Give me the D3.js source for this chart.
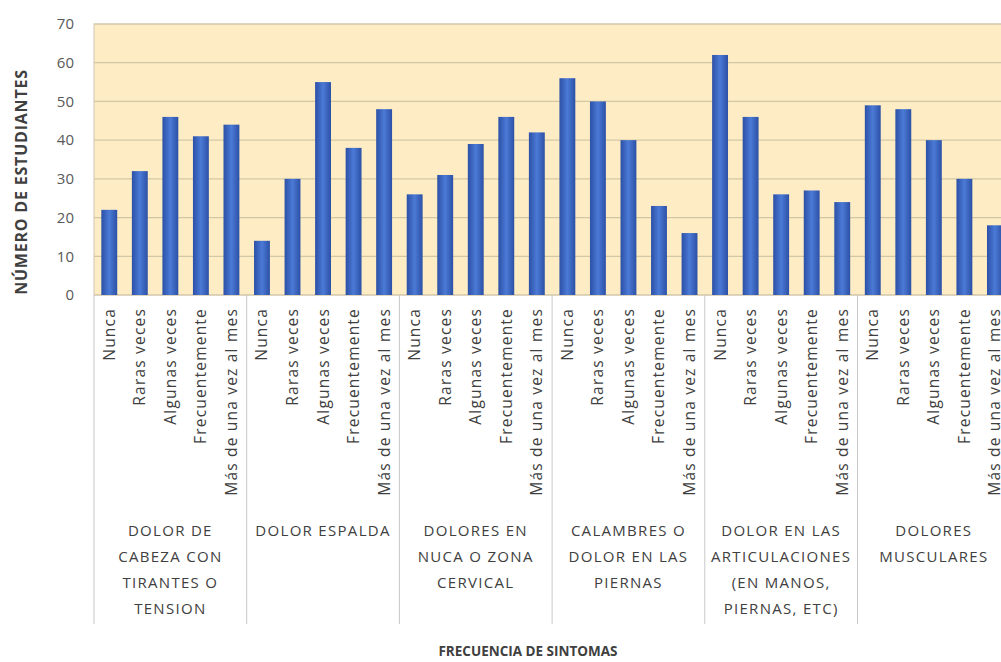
<!DOCTYPE html>
<html>
<head>
<meta charset="utf-8">
<script src="https://cdn.jsdelivr.net/npm/d3@7/dist/d3.min.js"></script>
<style>
  body { margin: 0; background: #fff; }
  svg { display: block; font-family: "Open Sans", "Liberation Sans", sans-serif; }
</style>
</head>
<body>
<svg id="chart" width="1001" height="662"></svg>
<script>
// frequency categories (repeat in each symptom group)
var freqs = ['Nunca', 'Raras veces', 'Algunas veces', 'Frecuentemente', 'Más de una vez al mes'];

// symptom groups, one line per row of the label
var groups = [
    ['DOLOR DE', 'CABEZA CON', 'TIRANTES O', 'TENSION'],
    ['DOLOR ESPALDA'],
    ['DOLORES EN', 'NUCA O ZONA', 'CERVICAL'],
    ['CALAMBRES O', 'DOLOR EN LAS', 'PIERNAS'],
    ['DOLOR EN LAS', 'ARTICULACIONES', '(EN MANOS,', 'PIERNAS, ETC)'],
    ['DOLORES', 'MUSCULARES']
];

// number of students per frequency, per group
var dolorCabeza = [22, 32, 46, 41, 44];
var dolorEspalda = [14, 30, 55, 38, 48];
var doloresNuca = [26, 31, 39, 46, 42];
var calambres = [56, 50, 40, 23, 16];
var dolorArticulaciones = [62, 46, 26, 27, 24];
var doloresMusculares = [49, 48, 40, 30, 18];

var yTicks = [0, 10, 20, 30, 40, 50, 60, 70];

(function() {
    var series = [dolorCabeza, dolorEspalda, doloresNuca, calambres, dolorArticulaciones, doloresMusculares];

    // flatten into one row per bar
    var rows = [];
    series.forEach(function(vals, g) {
        vals.forEach(function(v, i) {
            rows.push({ key: g + '-' + i, group: g, freq: freqs[i], value: v });
        });
    });

    var plotLeft = 94, plotTop = 24, plotBottom = 295, groupW = 152.7;
    var plotRight = plotLeft + groups.length * groupW;

    var svg = d3.select('#chart');

    var x = d3.scaleBand()
        .domain(rows.map(function(d) { return d.key; }))
        .range([plotLeft, plotRight])
        .paddingInner(0.48)
        .paddingOuter(0.24);

    var y = d3.scaleLinear().domain([0, 70]).range([plotBottom, plotTop]);

    var defs = svg.append('defs');
    var grad = defs.append('linearGradient').attr('id', 'barGrad')
        .attr('x1', '0%').attr('x2', '100%').attr('y1', '0%').attr('y2', '0%');
    grad.append('stop').attr('offset', '0%').attr('stop-color', '#2c50a6');
    grad.append('stop').attr('offset', '50%').attr('stop-color', '#4b7ad6');
    grad.append('stop').attr('offset', '100%').attr('stop-color', '#2c50a6');

    // plot background
    svg.append('rect')
        .attr('x', plotLeft).attr('y', plotTop)
        .attr('width', plotRight - plotLeft).attr('height', plotBottom - plotTop)
        .attr('fill', '#fdecc4')
        .attr('stroke', '#cfc7b4').attr('stroke-width', 1);

    // gridlines
    svg.append('g').selectAll('line')
        .data(yTicks)
        .enter().append('line')
        .attr('x1', plotLeft).attr('x2', plotRight)
        .attr('y1', function(d) { return y(d); })
        .attr('y2', function(d) { return y(d); })
        .attr('stroke', '#d3c8a6').attr('stroke-width', 1.2);

    // y axis tick labels
    var yAxis = svg.append('g')
        .attr('transform', 'translate(' + (plotLeft - 20) + ',0)')
        .call(d3.axisLeft(y).tickValues(yTicks).tickSize(0).tickPadding(0));
    yAxis.select('.domain').remove();
    yAxis.selectAll('text')
        .attr('font-size', 15).attr('fill', '#595959')
        .attr('font-family', '"Open Sans", sans-serif');

    // bars
    svg.append('g').selectAll('rect')
        .data(rows)
        .enter().append('rect')
        .attr('x', function(d) { return x(d.key); })
        .attr('y', function(d) { return y(d.value); })
        .attr('width', x.bandwidth())
        .attr('height', function(d) { return y(0) - y(d.value); })
        .attr('fill', 'url(#barGrad)');

    // category labels, rotated
    svg.append('g').selectAll('text')
        .data(rows)
        .enter().append('text')
        .attr('transform', function(d) {
            var cx = x(d.key) + x.bandwidth() / 2;
            return 'translate(' + (cx + 5.5) + ',308) rotate(-90)';
        })
        .attr('text-anchor', 'end')
        .attr('font-size', 15.5)
        .attr('letter-spacing', 1.2)
        .attr('fill', '#404040')
        .text(function(d) { return d.freq; });

    // group separators
    var sep = d3.range(groups.length + 1).map(function(i) { return plotLeft + i * groupW; });
    svg.append('g').selectAll('line')
        .data(sep)
        .enter().append('line')
        .attr('x1', function(d) { return d; }).attr('x2', function(d) { return d; })
        .attr('y1', plotBottom).attr('y2', 624)
        .attr('stroke', '#c8c8c8').attr('stroke-width', 1);

    // group labels
    var gl = svg.append('g').selectAll('text')
        .data(groups)
        .enter().append('text')
        .attr('text-anchor', 'middle')
        .attr('font-size', 15)
        .attr('letter-spacing', 1.3)
        .attr('fill', '#404040');
    gl.each(function(lines, g) {
        var cx = plotLeft + g * groupW + groupW / 2;
        d3.select(this).selectAll('tspan')
            .data(lines)
            .enter().append('tspan')
            .attr('x', cx)
            .attr('y', function(d, i) { return 536 + i * 26; })
            .text(function(d) { return d; });
    });

    // axis titles
    svg.append('text')
        .attr('transform', 'translate(27,182) rotate(-90)')
        .attr('text-anchor', 'middle')
        .attr('font-size', 16).attr('font-weight', 'bold')
        .attr('letter-spacing', 0.8)
        .attr('fill', '#404040')
        .text('NÚMERO DE ESTUDIANTES');

    svg.append('text')
        .attr('x', 528).attr('y', 656)
        .attr('text-anchor', 'middle')
        .attr('font-size', 13.5).attr('font-weight', 'bold')
        .attr('fill', '#404040')
        .text('FRECUENCIA DE SINTOMAS');
})();
</script>
</body>
</html>
